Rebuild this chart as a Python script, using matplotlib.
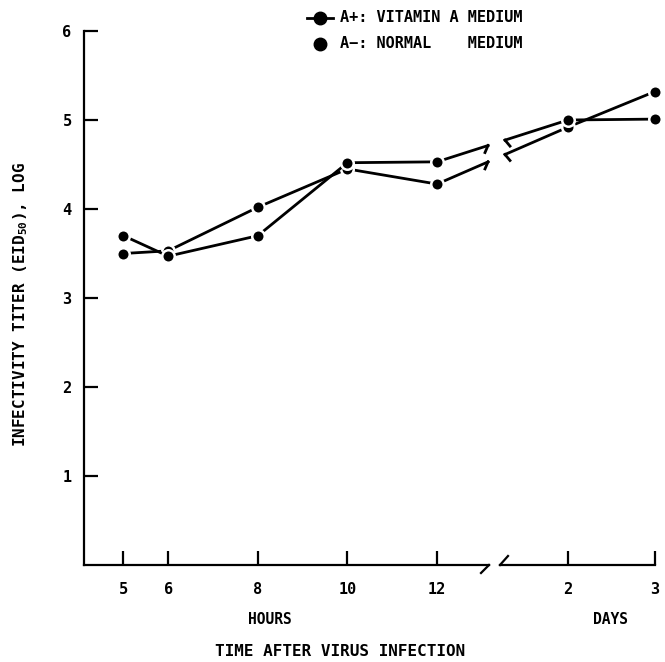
import matplotlib
matplotlib.use('Agg')
import matplotlib.pyplot as plt
from matplotlib.lines import Line2D
from matplotlib.transforms import IdentityTransform
import numpy as np

# infectivity titer (log EID50)
hours = [5, 6, 8, 10, 12]
days = [2, 3]
vit_a_hours = [3.50, 3.53, 4.02, 4.45, 4.28]
vit_a_days = [4.92, 5.32]
normal_hours = [3.70, 3.47, 3.70, 4.52, 4.53]
normal_days = [5.00, 5.01]
y_ticks = [1, 2, 3, 4, 5, 6]

plt.rcParams['font.family'] = ['DejaVu Sans Mono']
plt.rcParams['font.weight'] = 'bold'
plt.rcParams['mathtext.fontset'] = 'custom'
plt.rcParams['mathtext.rm'] = 'DejaVu Sans Mono:bold'
plt.rcParams['mathtext.default'] = 'rm'

W, H = 665, 662
fig = plt.figure(figsize=(W / 100, H / 100), dpi=100)


def box(x0, x1, y0=31, y1=565):
    return [x0 / W, 1 - y1 / H, (x1 - x0) / W, (y1 - y0) / H]


ax1 = fig.add_axes(box(84, 489))
ax2 = fig.add_axes(box(500, 655))
ax1.set_xlim(4.12, 13.16)
ax2.set_xlim(1.22, 3.0)
for ax in (ax1, ax2):
    ax.set_ylim(0, 6)
    ax.patch.set_visible(False)
    ax.spines['top'].set_visible(False)
    ax.spines['right'].set_visible(False)
    ax.spines['bottom'].set_linewidth(1.6)
    ax.tick_params(axis='x', direction='in', length=10, width=1.6, pad=12, labelsize=11)
ax2.spines['left'].set_visible(False)
ax2.set_yticks([])
ax1.spines['left'].set_linewidth(1.6)
ax1.tick_params(axis='y', direction='in', length=10, width=1.6, pad=9, labelsize=11)
ax1.set_xticks(hours)
ax1.set_yticks(y_ticks)
ax2.set_xticks(days)

style = dict(color='k', lw=2, marker='o', ms=9, mfc='k', mec='white', mew=1.8,
             clip_on=False, zorder=3)
ax1.plot(hours, vit_a_hours, **style)
ax1.plot(hours, normal_hours, **style)
ax2.plot(days, vit_a_days, **style)
ax2.plot(days, normal_days, **style)

# lines running across the axis break, cut with little hooks
gap0 = ax1.transAxes.transform((1, 0))
gap1 = ax2.transAxes.transform((0, 0))
seg = dict(color='k', lw=2, transform=IdentityTransform())
for yh, yd in ((vit_a_hours, vit_a_days), (normal_hours, normal_days)):
    p0 = ax1.transData.transform((hours[-1], yh[-1]))
    p1 = ax2.transData.transform((days[0], yd[0]))
    xa, xb = gap0[0] - 1, gap1[0] + 5
    ya = np.interp(xa, [p0[0], p1[0]], [p0[1], p1[1]])
    yb = np.interp(xb, [p0[0], p1[0]], [p0[1], p1[1]])
    ea = ax1.transData.inverted().transform((xa, ya))
    eb = ax2.transData.inverted().transform((xb, yb))
    ax1.plot([hours[-1], ea[0]], [yh[-1], ea[1]], color='k', lw=2, clip_on=False, zorder=2)
    ax2.plot([days[0], eb[0]], [yd[0], eb[1]], color='k', lw=2, clip_on=False, zorder=2)
    fig.add_artist(Line2D([xa, xa - 3], [ya, ya - 7], **seg))
    fig.add_artist(Line2D([xb, xb + 5], [yb, yb - 6], **seg))

# break marks on the x axis
fig.add_artist(Line2D([gap0[0], gap0[0] - 8], [gap0[1], gap0[1] - 8], lw=1.6, color='k',
                      transform=IdentityTransform()))
fig.add_artist(Line2D([gap1[0], gap1[0] + 8], [gap1[1], gap1[1] + 9], lw=1.6, color='k',
                      transform=IdentityTransform()))

fig.text(270 / W, 1 - 620 / H, 'HOURS', ha='center', va='center', fontsize=10.5)
fig.text(610 / W, 1 - 620 / H, 'DAYS', ha='center', va='center', fontsize=10.5)
fig.text(340 / W, 1 - 651 / H, 'TIME AFTER VIRUS INFECTION', ha='center', va='center', fontsize=11.5)
fig.text(21 / W, 1 - 305 / H, r'INFECTIVITY TITER (EID$_{50}$), LOG', rotation=90,
         ha='center', va='center', fontsize=11.5)

# legend drawn by hand at the top
fig.add_artist(Line2D([307 / W, 333 / W], [1 - 18 / H] * 2, color='k', lw=2,
                      transform=fig.transFigure))
fig.add_artist(Line2D([320 / W], [1 - 18 / H], marker='o', ms=9, color='k',
                      transform=fig.transFigure))
fig.add_artist(Line2D([320 / W], [1 - 44 / H], marker='o', ms=9, color='k',
                      transform=fig.transFigure))
fig.text(340 / W, 1 - 18 / H, 'A+: VITAMIN A MEDIUM', ha='left', va='center', fontsize=11)
fig.text(340 / W, 1 - 44 / H, 'A\u2212: NORMAL    MEDIUM', ha='left', va='center', fontsize=11)

fig.savefig('out.png', dpi=100)
